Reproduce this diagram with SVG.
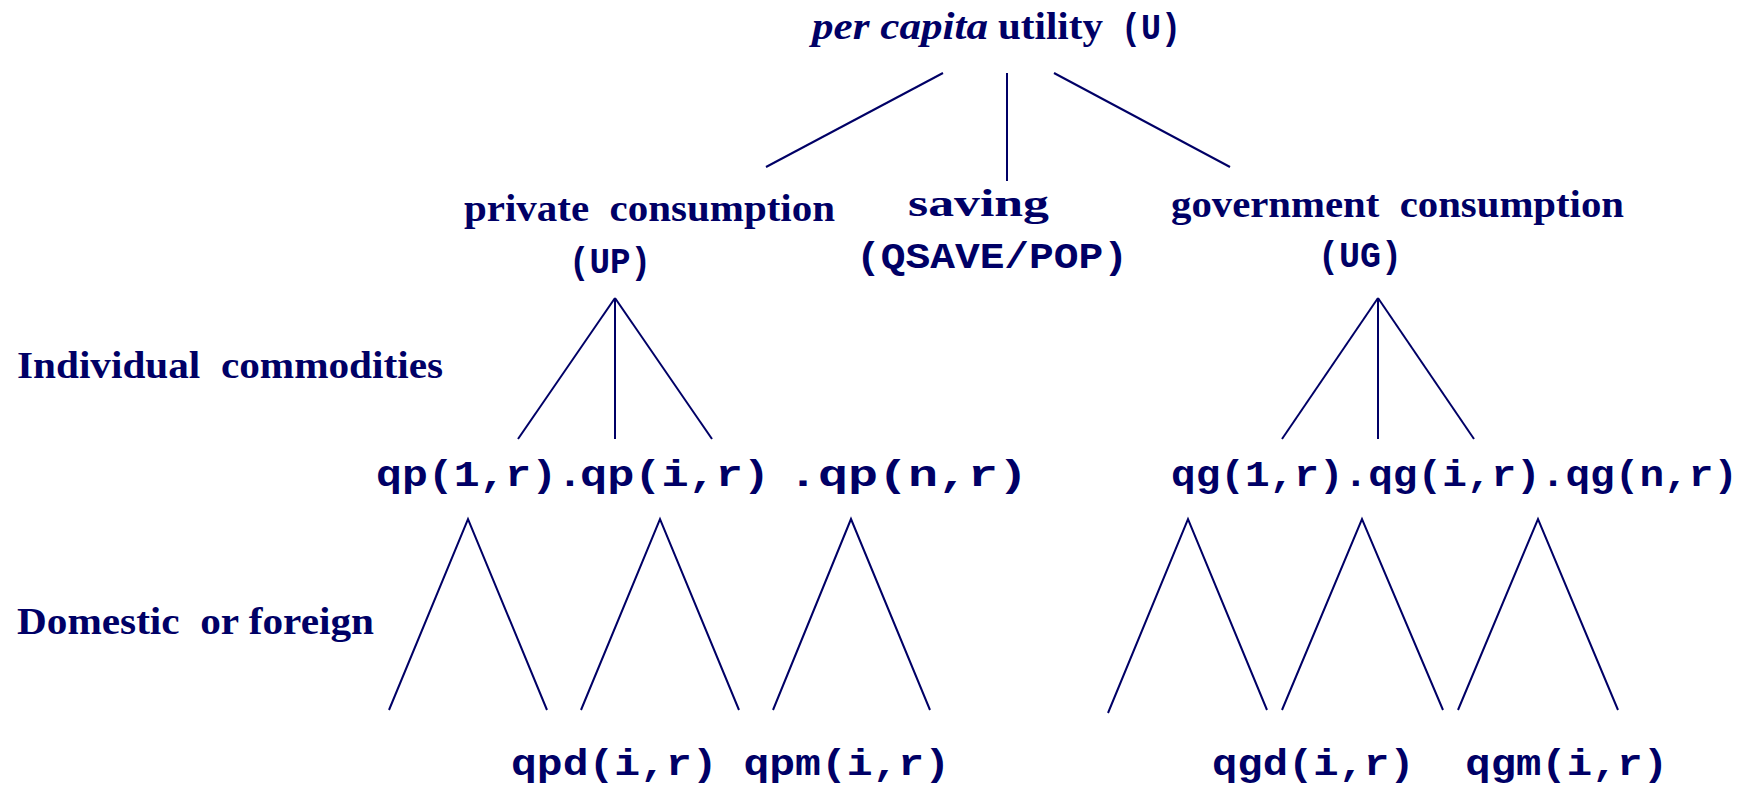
<svg xmlns="http://www.w3.org/2000/svg" width="1744" height="785" viewBox="0 0 1744 785">
<style>
.t{font-family:"Liberation Serif","Times New Roman",serif;font-weight:bold;font-size:38px;fill:#000066}
.ti{font-style:italic}
.m{font-family:"Liberation Mono","Courier New",monospace;font-weight:bold;font-size:36px;fill:#000066}
.ln{stroke:#000066;stroke-width:2;fill:none}
</style>
<rect width="1744" height="785" fill="#ffffff"/>
<g id="connectors">
<line class="ln" x1="943" y1="73" x2="766" y2="167"/>
<line class="ln" x1="1007" y1="73" x2="1007" y2="181"/>
<line class="ln" x1="1054" y1="73" x2="1230" y2="167"/>
<line class="ln" x1="615" y1="298" x2="518" y2="439"/>
<line class="ln" x1="615" y1="298" x2="615" y2="439"/>
<line class="ln" x1="615" y1="298" x2="712" y2="439"/>
<line class="ln" x1="1378" y1="298" x2="1282" y2="439"/>
<line class="ln" x1="1378" y1="298" x2="1378" y2="439"/>
<line class="ln" x1="1378" y1="298" x2="1474" y2="439"/>
<polyline class="ln" points="389,710 468,519 547,710"/>
<polyline class="ln" points="581,710 660,519 739,710"/>
<polyline class="ln" points="773,710 851,519 930,710"/>
<polyline class="ln" points="1108,713 1188,519 1267,710"/>
<polyline class="ln" points="1282,710 1362,519 1443,710"/>
<polyline class="ln" points="1458,710 1538,519 1618,710"/>
</g>
<g id="n-utility">
<text class="t ti" x="812" y="39" textLength="176" lengthAdjust="spacingAndGlyphs">per capita</text>
<text class="t" x="998" y="39" textLength="105" lengthAdjust="spacingAndGlyphs">utility</text>
<text class="m" x="1121" y="39" textLength="60" lengthAdjust="spacingAndGlyphs">(U)</text>
</g>
<g id="n-private">
<text class="t" x="464" y="221" textLength="371" lengthAdjust="spacingAndGlyphs" xml:space="preserve">private  consumption</text>
<text class="m" x="569" y="273" textLength="82" lengthAdjust="spacingAndGlyphs">(UP)</text>
</g>
<g id="n-saving">
<text class="t" x="908" y="216" textLength="141" lengthAdjust="spacingAndGlyphs">saving</text>
<text class="m" x="856" y="268" textLength="272" lengthAdjust="spacingAndGlyphs">(QSAVE/POP)</text>
</g>
<g id="n-government">
<text class="t" x="1171" y="217" textLength="453" lengthAdjust="spacingAndGlyphs" xml:space="preserve">government  consumption</text>
<text class="m" x="1318" y="267" textLength="84" lengthAdjust="spacingAndGlyphs">(UG)</text>
</g>
<g id="label-individual">
<text class="t" x="17" y="378" textLength="426" lengthAdjust="spacingAndGlyphs" xml:space="preserve">Individual  commodities</text>
</g>
<g id="label-domestic">
<text class="t" x="17" y="634" textLength="357" lengthAdjust="spacingAndGlyphs" xml:space="preserve">Domestic  or foreign</text>
</g>
<g id="n-qp">
<text class="m" x="376" y="486" textLength="207" lengthAdjust="spacingAndGlyphs">qp(1,r).</text>
<text class="m" x="580" y="486" textLength="190" lengthAdjust="spacingAndGlyphs">qp(i,r)</text>
<text class="m" x="788" y="486" textLength="240" lengthAdjust="spacingAndGlyphs">.qp(n,r)</text>
</g>
<g id="n-qg">
<text class="m" x="1171" y="486" textLength="567" lengthAdjust="spacingAndGlyphs">qg(1,r).qg(i,r).qg(n,r)</text>
</g>
<g id="n-qpdm">
<text class="m" x="511" y="775" textLength="439" lengthAdjust="spacingAndGlyphs" xml:space="preserve">qpd(i,r) qpm(i,r)</text>
</g>
<g id="n-qgdm">
<text class="m" x="1212" y="775" textLength="456" lengthAdjust="spacingAndGlyphs" xml:space="preserve">qgd(i,r)  qgm(i,r)</text>
</g>
</svg>
